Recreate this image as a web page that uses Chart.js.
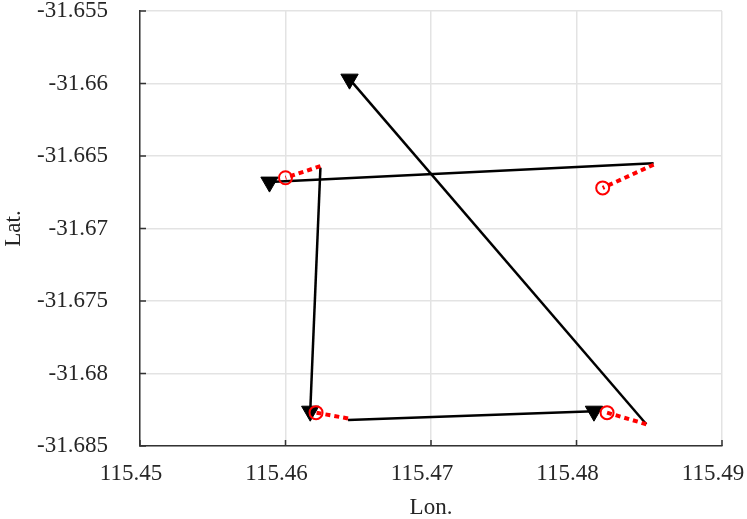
<!DOCTYPE html>
<html>
<head>
<meta charset="utf-8">
<script src="https://cdn.jsdelivr.net/npm/chart.js@4.4.1/dist/chart.umd.min.js"></script>
<style>
  html, body { margin: 0; padding: 0; background: #fff; }
  #wrap { width: 747px; height: 519px; }
</style>
</head>
<body>
<div id="wrap"><canvas id="track" width="747" height="519"></canvas></div>
<script>
// Survey legs: triangle = leg start, then the leg end
const leg1 = [{ x: 115.4644, y: -31.6597 }, { x: 115.4848, y: -31.6835 }];
const leg2 = [{ x: 115.4812, y: -31.6826 }, { x: 115.4643, y: -31.6832 }];
const leg3 = [{ x: 115.4617, y: -31.6826 }, { x: 115.4624, y: -31.6658 }];
const leg4 = [{ x: 115.4589, y: -31.6668 }, { x: 115.4853, y: -31.6655 }];

// Turn offsets: leg end -> circle
const turn1 = [{ x: 115.4848, y: -31.6835 }, { x: 115.4821, y: -31.6827 }];
const turn2 = [{ x: 115.4643, y: -31.6831 }, { x: 115.4621, y: -31.6827 }];
const turn3 = [{ x: 115.4624, y: -31.6657 }, { x: 115.4600, y: -31.6665 }];
const turn4 = [{ x: 115.4853, y: -31.6656 }, { x: 115.4818, y: -31.6672 }];

const xTickValues = [115.45, 115.46, 115.47, 115.48, 115.49];
const xTickLabels = ["115.45", "115.46", "115.47", "115.48", "115.49"];
const yTickValues = [-31.685, -31.68, -31.675, -31.67, -31.665, -31.66, -31.655];
const yTickLabels = ["-31.685", "-31.68", "-31.675", "-31.67", "-31.665", "-31.66", "-31.655"];

const FONT = { family: "'Liberation Serif', 'DejaVu Serif', serif", size: 23 };
const TEXT = "#262626";

function legSet(data) {
  return {
    data,
    showLine: true,
    borderColor: "#000",
    borderWidth: 2.5,
    pointStyle: "triangle",
    rotation: 180,
    pointRadius: [10, 0],
    pointBackgroundColor: "#000",
    pointBorderColor: "#000",
    pointBorderWidth: 1,
    order: 2,
  };
}

function turnSet(data) {
  return {
    data,
    showLine: true,
    borderColor: "#ff0000",
    borderWidth: 4,
    borderDash: [5, 4],
    pointStyle: "circle",
    pointRadius: [0, 6.5],
    pointBackgroundColor: "rgba(255,255,255,0)",
    pointBorderColor: "#ff0000",
    pointBorderWidth: 2,
    order: 1,
  };
}

// small inward tick marks on the left and bottom axes
const innerTicks = {
  id: "innerTicks",
  afterDraw(chart) {
    const { ctx, chartArea, scales } = chart;
    ctx.save();
    ctx.strokeStyle = "#333";
    ctx.lineWidth = 1.5;
    ctx.beginPath();
    xTickValues.forEach((v) => {
      const px = scales.x.getPixelForValue(v);
      ctx.moveTo(px, chartArea.bottom);
      ctx.lineTo(px, chartArea.bottom - 6);
    });
    yTickValues.forEach((v) => {
      const py = scales.y.getPixelForValue(v);
      ctx.moveTo(chartArea.left, py);
      ctx.lineTo(chartArea.left + 6, py);
    });
    ctx.stroke();
    ctx.restore();
  },
};

new Chart(document.getElementById("track"), {
  type: "scatter",
  data: {
    datasets: [
      legSet(leg1), legSet(leg2), legSet(leg3), legSet(leg4),
      turnSet(turn1), turnSet(turn2), turnSet(turn3), turnSet(turn4),
    ],
  },
  options: {
    responsive: false,
    animation: false,
    layout: { padding: { top: 10, right: 25, bottom: 0, left: 0 } },
    plugins: { legend: { display: false }, tooltip: { enabled: false } },
    scales: {
      x: {
        type: "linear",
        min: 115.45,
        max: 115.49,
        afterBuildTicks: (s) => { s.ticks = xTickValues.map((v) => ({ value: v })); },
        afterFit: (s) => { s.height = 73; s.paddingLeft = 0; s.paddingRight = 0; },
        ticks: {
          callback: (v, i) => xTickLabels[i],
          font: FONT,
          color: TEXT,
          padding: 14,
          labelOffset: -9,
          maxRotation: 0,
        },
        grid: { color: "#e3e3e3", lineWidth: 1.5, drawTicks: false },
        border: { color: "#333", width: 1.5 },
        title: { display: true, text: "Lon.", font: FONT, color: TEXT, padding: { top: 2, bottom: -3 } },
      },
      y: {
        type: "linear",
        min: -31.685,
        max: -31.655,
        afterBuildTicks: (s) => { s.ticks = yTickValues.map((v) => ({ value: v })); },
        afterFit: (s) => { s.width = 140; s.paddingTop = 0; s.paddingBottom = 0; },
        ticks: {
          callback: (v, i) => yTickLabels[i],
          font: FONT,
          color: TEXT,
          padding: 32,
        },
        grid: { color: "#e3e3e3", lineWidth: 1.5, drawTicks: false },
        border: { color: "#333", width: 1.5 },
        title: { display: true, text: "Lat.", font: FONT, color: TEXT, padding: 0 },
      },
    },
  },
  plugins: [innerTicks],
});
</script>
</body>
</html>
